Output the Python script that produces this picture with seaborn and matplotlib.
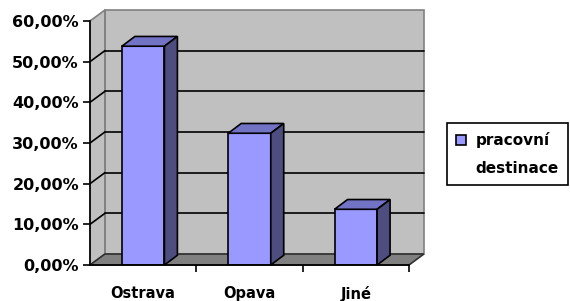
import matplotlib
matplotlib.use("Agg")
import matplotlib.pyplot as plt
import seaborn as sns
import pandas as pd
from matplotlib.patches import Polygon, Patch
from matplotlib.ticker import FuncFormatter

# --- data ---
categories = ["Ostrava", "Opava", "Jiné"]
shares = [0.538, 0.324, 0.137]
legend_lines = ["pracovní", "destinace"]
y_ticks = [0.0, 0.1, 0.2, 0.3, 0.4, 0.5, 0.6]

# --- style (Excel 3D look) ---
FRONT, TOP, SIDE = "#9999FF", "#7373C6", "#4D4D80"
WALL, FLOOR, EDGE = "#C0C0C0", "#808080", "#808080"
DX, DY = 0.14, 0.027      # depth of walls, data units
BDX, BDY = 0.122, 0.024   # depth of bars

sns.set_theme(style="ticks")
plt.rcParams["font.family"] = ["DejaVu Sans"]
plt.rcParams["font.weight"] = "bold"

df = pd.DataFrame({"misto": categories, "podil": shares})

fig = plt.figure(figsize=(5.7, 3.01), dpi=100)
ax = fig.add_axes([90 / 570, 36 / 301, 319 / 570, 244 / 301])

sns.barplot(data=df, x="misto", y="podil", color=FRONT, saturation=1,
            width=0.4, edgecolor="black", linewidth=1.2, ax=ax, zorder=3)
bars = ax.containers[0]

x0, x1 = -0.5, len(categories) - 0.5
ymax = y_ticks[-1]

# walls + floor
ax.add_patch(Polygon([(x0 + DX, DY), (x1 + DX, DY), (x1 + DX, ymax + DY), (x0 + DX, ymax + DY)],
                     closed=True, fc=WALL, ec=EDGE, lw=1.2, clip_on=False, zorder=0))
ax.add_patch(Polygon([(x0, 0), (x0 + DX, DY), (x0 + DX, ymax + DY), (x0, ymax)],
                     closed=True, fc=WALL, ec=EDGE, lw=1.2, clip_on=False, zorder=0))
ax.add_patch(Polygon([(x0, 0), (x1, 0), (x1 + DX, DY), (x0 + DX, DY)],
                     closed=True, fc=FLOOR, ec="#303030", lw=1.2, clip_on=False, zorder=0.5))

# gridlines on back + side wall
for t in y_ticks[1:-1]:
    ax.plot([x0 + DX, x1 + DX], [t + DY, t + DY], color="black", lw=1.2, zorder=1, clip_on=False)
    ax.plot([x0, x0 + DX], [t, t + DY], color="black", lw=1.2, zorder=1, clip_on=False)

# bar tops and sides
for b in bars:
    x, w, h = b.get_x(), b.get_width(), b.get_height()
    ax.add_patch(Polygon([(x, h), (x + w, h), (x + w + BDX, h + BDY), (x + BDX, h + BDY)],
                         closed=True, fc=TOP, ec="black", lw=1.2, zorder=3, clip_on=False))
    ax.add_patch(Polygon([(x + w, 0), (x + w + BDX, BDY), (x + w + BDX, h + BDY), (x + w, h)],
                         closed=True, fc=SIDE, ec="black", lw=1.2, zorder=3, clip_on=False))

ax.set_xlim(x0, x1)
ax.set_ylim(0, ymax)
ax.set_facecolor("white")
sns.despine(ax=ax)
for s in ["left", "bottom"]:
    ax.spines[s].set_color("black")
    ax.spines[s].set_linewidth(1.2)
    ax.spines[s].set_zorder(4)

ax.set_yticks(y_ticks)
ax.yaxis.set_major_formatter(FuncFormatter(lambda v, _: f"{v * 100:.2f}%".replace(".", ",")))
ax.tick_params(axis="y", length=5, width=1.2, color="black", labelsize=11.5,
               labelcolor="black", pad=3)

ax.set_xticks(range(len(categories)))
ax.set_xticklabels(categories)
ax.set_xticks([i + 0.5 for i in range(len(categories))], minor=True)
ax.tick_params(axis="x", which="major", length=0, labelsize=10.5, labelcolor="black", pad=15)
ax.tick_params(axis="x", which="minor", length=5, width=1.2, color="black")
ax.set_xlabel("")
ax.set_ylabel("")

handles = [Patch(fc=FRONT, ec="black", lw=1.2), Patch(fc="none", ec="none")]
leg = fig.legend(handles, legend_lines, loc="upper left",
                 bbox_to_anchor=(447 / 570, 1 - 123 / 301), borderaxespad=0,
                 fancybox=False, framealpha=1, edgecolor="black", fontsize=11,
                 handlelength=0.65, handleheight=0.65, handletextpad=0.6,
                 labelspacing=0.85, borderpad=0.6)
leg.get_frame().set_linewidth(1.2)
for t in leg.get_texts():
    t.set_color("black")

fig.savefig("out.png", dpi=100)
